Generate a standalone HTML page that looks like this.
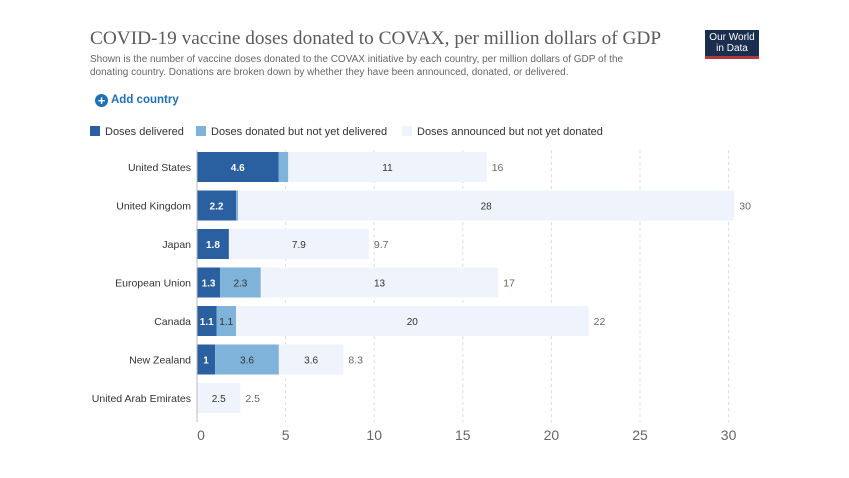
<!DOCTYPE html>
<html><head><meta charset="utf-8"><style>
body{margin:0;width:849px;height:478px;background:#fff;overflow:hidden;font-family:"Liberation Sans",sans-serif;}
#title{position:absolute;left:90px;top:28px;font-family:"Liberation Serif",serif;font-size:19.3px;color:#5b5b5b;white-space:nowrap;}
#sub{position:absolute;left:90px;top:53px;font-size:10px;line-height:13px;color:#666;width:540px;}
#logo{position:absolute;left:705px;top:30px;width:54px;height:29px;background:#1a2f4f;color:#fff;font-size:10px;line-height:11px;text-align:center;padding-top:2px;box-sizing:border-box;border-bottom:3px solid #b13a3a;}
#add{position:absolute;left:95px;top:94px;font-size:11.5px;color:#1d6fb8;font-weight:bold;}
#add span.c{display:inline-block;width:13px;height:13px;border-radius:50%;background:#1d6fb8;color:#fff;text-align:center;line-height:13px;font-size:13px;vertical-align:-2px;margin-right:3px}
.leg{position:absolute;top:126px;font-size:11px;color:#333;}
.leg i{display:inline-block;width:10px;height:10px;vertical-align:-1px;margin-right:5px}
</style></head><body>
<div id="title">COVID-19 vaccine doses donated to COVAX, per million dollars of GDP</div>
<div id="sub">Shown is the number of vaccine doses donated to the COVAX initiative by each country, per million dollars of GDP of the donating country. Donations are broken down by whether they have been announced, donated, or delivered.</div>
<div id="logo">Our World<br>in Data</div>
<div id="add"><span class="c">+</span>Add country</div>
<div class="leg" style="left:90px"><i style="background:#2a5fa0"></i>Doses delivered</div>
<div class="leg" style="left:196px"><i style="background:#7fb3da"></i>Doses donated but not yet delivered</div>
<div class="leg" style="left:402px"><i style="background:#eef3fc"></i>Doses announced but not yet donated</div>
<svg id="chart" width="849" height="478" style="position:absolute;left:0;top:0"></svg>
<script>
const countries=["United States","United Kingdom","Japan","European Union","Canada","New Zealand","United Arab Emirates"];
const delivered=[4.6,2.2,1.8,1.3,1.1,1.02,0];
const donated=[0.55,0.12,0,2.3,1.1,3.6,0];
const announced=[11.2,28,7.9,13.4,19.9,3.64,2.45];
const ticks=[0,5,10,15,20,25,30];
const svg=document.getElementById('chart');const NS="http://www.w3.org/2000/svg";
const x0=197,k=17.72,y0=152,step=38.5,bh=30;
const X=v=>x0+v*k;
function mk(t,a,p){const e=document.createElementNS(NS,t);for(const n in a)e.setAttribute(n,a[n]);(p||svg).appendChild(e);return e;}
function fmt(v){let s=Number(v.toPrecision(2)).toString();return s;}
ticks.forEach(t=>{
 if(t>0){const g=mk('line',{x1:X(t),x2:X(t),y1:150,y2:422,stroke:'#ddd','stroke-dasharray':'3,3'});
 
 }
 const l=mk('text',{x:X(t)+(t==0?4:0),y:440,'text-anchor':'middle','font-size':'14','fill':'#666'});l.textContent=t;
 
 
});
const cols=['#2a5fa0','#7fb3da','#eef3fc'];const names=['delivered','donated','announced'];
countries.forEach((c,i)=>{
 const y=y0+i*step;
 const lab=mk('text',{x:191,y:y+bh/2+4,'text-anchor':'end','font-size':'10.5','fill':'#333'});lab.textContent=c;
 
 
 const vals=[delivered[i],donated[i],announced[i]];let acc=0;
 vals.forEach((v,j)=>{
  if(v<=0)return;
  const r=mk('rect',{x:X(acc),y:y,width:v*k,height:bh,fill:cols[j]});
  
  
  if(v*k>14){const t=mk('text',{x:X(acc)+v*k/2,y:y+bh/2+4,'text-anchor':'middle','font-size':'10','fill':j==0?'#fff':'#333','font-weight':j==0?'bold':'normal'});t.textContent=fmt(v);
   
   }
  acc+=v;
 });
 const tt=mk('text',{x:X(acc)+5,y:y+bh/2+4,'font-size':'10.5','fill':'#666'});tt.textContent=fmt(acc);
 
 
});
const ax=mk('line',{x1:x0,x2:x0,y1:150,y2:422,stroke:'#bbb'});


</script>
</body></html>
